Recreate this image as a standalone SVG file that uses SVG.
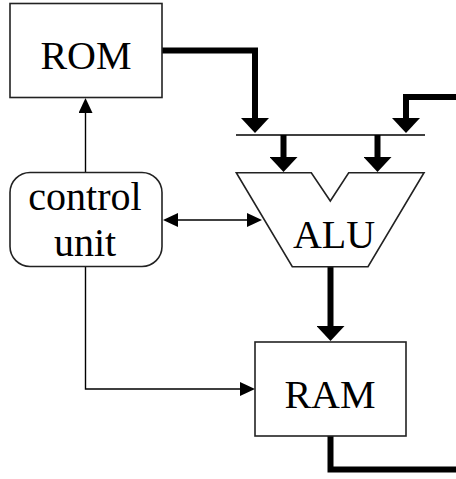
<svg xmlns="http://www.w3.org/2000/svg" width="456" height="479" viewBox="0 0 456 479">
<style>
.box{fill:#fff;stroke:#222;stroke-width:1.6}
.lbl{font-family:"Liberation Serif","Times New Roman",serif;font-size:40px;fill:#000;text-anchor:middle}
.thick{fill:none;stroke:#000;stroke-width:6}
.thin{fill:none;stroke:#000;stroke-width:1.4}
</style>
<defs>
<marker id="bigArrow" markerUnits="userSpaceOnUse" markerWidth="16" markerHeight="28" viewBox="0 0 16 28" refX="0" refY="14" orient="auto">
<path d="M0,0 L15,14 L0,28 z" fill="#000"/>
</marker>
<marker id="smallArrow" markerUnits="userSpaceOnUse" markerWidth="16" markerHeight="14" viewBox="0 0 16 14" refX="0" refY="7" orient="auto-start-reverse">
<path d="M0,0 L15,7 L0,14 z" fill="#000"/>
</marker>
</defs>
<g id="connectors">
<path class="thick" d="M162,50.5 H255 V118" marker-end="url(#bigArrow)"/>
<path class="thick" d="M456,97 H406 V118" marker-end="url(#bigArrow)"/>
<path class="thin" d="M236,135 H425" stroke-width="1.6"/>
<path class="thick" d="M283.5,135 V157" marker-end="url(#bigArrow)"/>
<path class="thick" d="M377.5,135 V157" marker-end="url(#bigArrow)"/>
<path class="thick" d="M330.5,267 V326" marker-end="url(#bigArrow)"/>
<path class="thick" d="M330.5,436 V469.5 H456"/>
<path class="thin" d="M85.5,172 V113" marker-end="url(#smallArrow)"/>
<path class="thin" d="M85.5,267 V389 H240" marker-end="url(#smallArrow)"/>
<path class="thin" d="M178,220 H247" marker-start="url(#smallArrow)" marker-end="url(#smallArrow)"/>
</g>
<g id="rom">
<rect class="box" x="10" y="3.5" width="152" height="94"/>
<text class="lbl" x="86" y="69">ROM</text>
</g>
<g id="control">
<rect class="box" x="10" y="172.5" width="152" height="94" rx="20" ry="20"/>
<text class="lbl" x="85" y="210">control</text>
<text class="lbl" x="85" y="256">unit</text>
</g>
<g id="alu">
<polygon class="box" points="236.3,172.7 311.3,172.7 330.3,201 348.7,172.7 424,172.7 368,266.7 292.3,266.7"/>
<text class="lbl" x="334" y="248">ALU</text>
</g>
<g id="ram">
<rect class="box" x="255" y="342" width="151" height="94"/>
<text class="lbl" x="330" y="408">RAM</text>
</g>
</svg>
